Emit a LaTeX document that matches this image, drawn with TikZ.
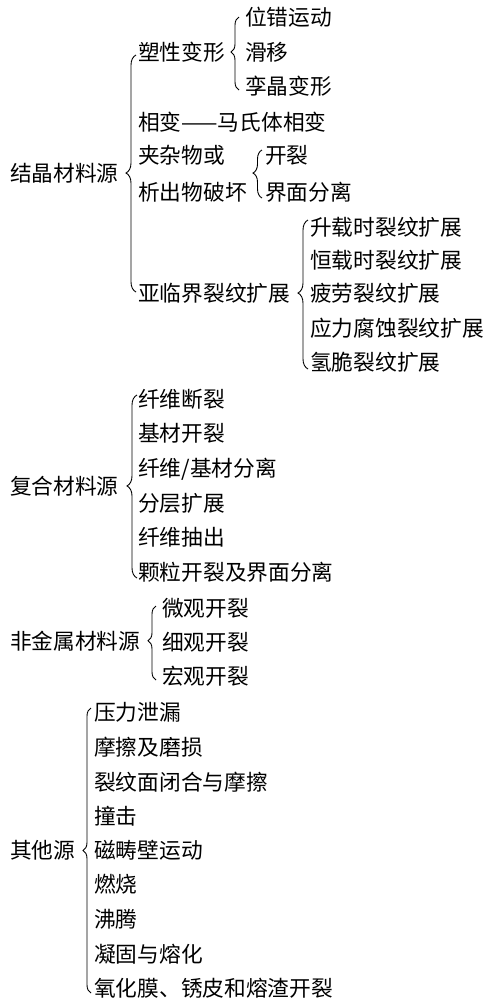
\documentclass[tikz,border=0pt]{standalone}
\usepackage{fontspec}
\newfontfamily\cjk{Noto Sans CJK SC}
\usetikzlibrary{decorations.pathreplacing}
\begin{document}
\begin{tikzpicture}[x=1pt,y=-1pt,
  lbl/.style={font=\cjk\fontsize{21.7}{21.7}\selectfont, inner sep=0pt, anchor=base west},
  br/.style={decorate, line width=0.9pt}]
\useasboundingbox (0,0) rectangle (489,1002);
% roots
\node[lbl] (r1) at (10,181) {结晶材料源};
\node[lbl] (r2) at (10,494) {复合材料源};
\node[lbl] (r3) at (10,649) {非金属材料源};
\node[lbl] (r4) at (10,858) {其他源};
% crystalline
\node[lbl] (a1) at (138,60) {塑性变形};
\node[lbl] (a11) at (245,25) {位错运动};
\node[lbl] (a12) at (245,60) {滑移};
\node[lbl] (a13) at (245,94) {孪晶变形};
\node[lbl] (a2) at (138,130) {相变——马氏体相变};
\node[lbl] (a3a) at (138,163) {夹杂物或};
\node[lbl] (a3b) at (138,200) {析出物破坏};
\node[lbl] (a31) at (265,163) {开裂};
\node[lbl] (a32) at (265,200) {界面分离};
\node[lbl] (a4) at (138,301) {亚临界裂纹扩展};
\node[lbl] (a41) at (310,235) {升载时裂纹扩展};
\node[lbl] (a42) at (310,268) {恒载时裂纹扩展};
\node[lbl] (a43) at (310,301) {疲劳裂纹扩展};
\node[lbl] (a44) at (310,336) {应力腐蚀裂纹扩展};
\node[lbl] (a45) at (310,370) {氢脆裂纹扩展};
% composite
\node[lbl] (b1) at (138,407) {纤维断裂};
\node[lbl] (b2) at (138,441) {基材开裂};
\node[lbl] (b3) at (138,476) {纤维/基材分离};
\node[lbl] (b4) at (138,511) {分层扩展};
\node[lbl] (b5) at (138,545) {纤维抽出};
\node[lbl] (b6) at (138,580) {颗粒开裂及界面分离};
% nonmetal
\node[lbl] (c1) at (162,616) {微观开裂};
\node[lbl] (c2) at (162,650) {细观开裂};
\node[lbl] (c3) at (162,684) {宏观开裂};
% others
\node[lbl] (d1) at (94,720) {压力泄漏};
\node[lbl] (d2) at (94,755) {摩擦及磨损};
\node[lbl] (d3) at (94,790) {裂纹面闭合与摩擦};
\node[lbl] (d4) at (94,824) {撞击};
\node[lbl] (d5) at (94,858) {磁畴壁运动};
\node[lbl] (d6) at (94,892) {燃烧};
\node[lbl] (d7) at (94,927) {沸腾};
\node[lbl] (d8) at (94,962) {凝固与熔化};
\node[lbl] (d9) at (94,996) {氧化膜、锈皮和熔渣开裂};
% brace end coordinates
\coordinate (B1t) at (136,55);  \coordinate (B1b) at (136,292);
\coordinate (B2t) at (239,17);  \coordinate (B2b) at (239,90);
\coordinate (B3t) at (262,150); \coordinate (B3b) at (262,198);
\coordinate (B4t) at (308,220); \coordinate (B4b) at (308,369);
\coordinate (B5t) at (137,395); \coordinate (B5b) at (137,578);
\coordinate (B6t) at (156,606); \coordinate (B6b) at (156,680);
\coordinate (B7t) at (91,708);  \coordinate (B7b) at (91,993);
\draw[br, decoration={brace, amplitude=10pt, aspect=0.502}] (B1b) -- (B1t);
\draw[br, decoration={brace, amplitude=8pt, aspect=0.52}] (B2b) -- (B2t);
\draw[br, decoration={brace, amplitude=9pt, aspect=0.52}] (B3b) -- (B3t);
\draw[br, decoration={brace, amplitude=10pt, aspect=0.51}] (B4b) -- (B4t);
\draw[br, decoration={brace, amplitude=10pt, aspect=0.503}] (B5b) -- (B5t);
\draw[br, decoration={brace, amplitude=8pt, aspect=0.53}] (B6b) -- (B6t);
\draw[br, decoration={brace, amplitude=8pt, aspect=0.50}] (B7b) -- (B7t);
\end{tikzpicture}
\end{document}
